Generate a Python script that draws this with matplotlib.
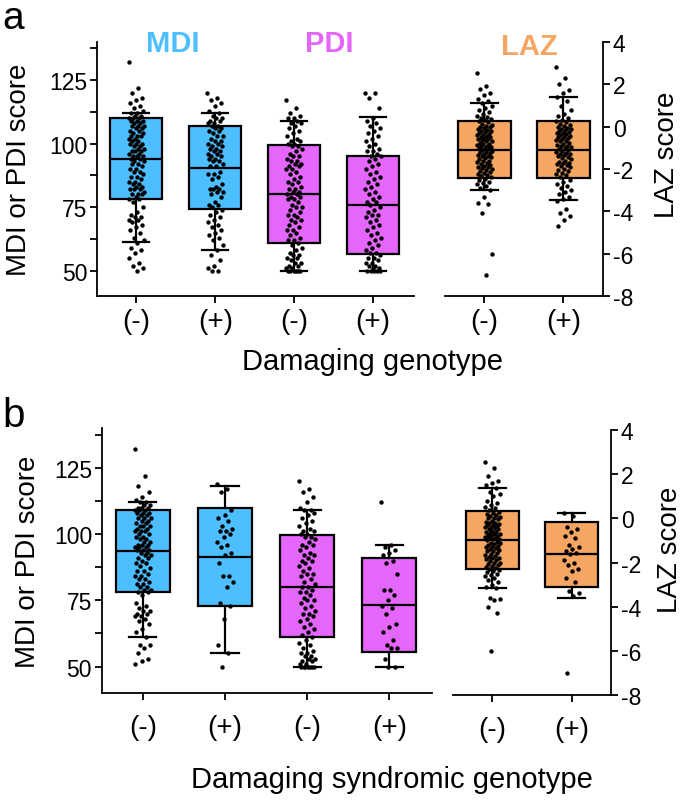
"""
    Box plots of developmental scores and LAZ by damaging genotype.
"""
import numpy as np
import matplotlib
matplotlib.use("Agg")
import matplotlib.pyplot as plt
from matplotlib.ticker import MultipleLocator

plt.rcParams["font.family"] = ["Liberation Sans", "DejaVu Sans"]
plt.rcParams["axes.unicode_minus"] = False

SCORE_LABELS = ["(-)", "(+)", "(-)", "(+)"]
LAZ_LABELS = ["(-)", "(+)"]
BLUE, PURPLE, ORANGE = "#4DBEFF", "#E466FB", "#F5A662"

# box stats as (whislo, q1, med, q3, whishi)
A_SCORE_BOX = [(61.2, 78.1, 94.1, 110.0, 112.2), (58.3, 74.1, 90.5, 107.0, 112.0),
               (50.0, 61.0, 80.1, 99.5, 108.8), (50.0, 56.6, 75.8, 95.1, 110.4)]
A_LAZ_BOX = [(-2.99, -2.42, -1.1, 0.27, 1.1), (-3.48, -2.42, -1.1, 0.27, 1.39)]
B_SCORE_BOX = [(61.1, 78.0, 93.6, 108.9, 112.1), (55.0, 72.8, 91.2, 109.9, 118.2),
               (50.0, 61.1, 79.9, 99.6, 109.0), (50.0, 55.5, 73.3, 91.0, 96.0)]
B_LAZ_BOX = [(-3.16, -2.31, -0.98, 0.35, 1.36), (-3.62, -3.1, -1.62, -0.18, 0.25)]

A_MDI_NEG = [132, 122, 120, 118, 117, 116, 115, 114, 113, 112, 112, 111, 111, 110, 110, 110,
             109, 109, 109, 108, 108, 107, 107, 107, 106, 106, 105, 105, 104, 104, 103, 103,
             103, 102, 102, 101, 101, 100, 100, 100, 99, 99, 98, 98, 97, 97, 97, 96, 96, 95,
             95, 95, 94, 94, 93, 93, 92, 92, 91, 90, 90, 89, 89, 88, 87, 87, 86, 85, 85, 84,
             84, 83, 83, 82, 82, 82, 81, 80, 80, 80, 79, 78, 78, 77, 75, 73, 72, 71, 71, 70,
             70, 69, 68, 67, 66, 65, 63, 62, 61, 59, 58, 57, 55, 53, 52, 51, 50]
A_MDI_POS = [120, 118, 117, 116, 115, 113, 112, 111, 110, 110, 109, 109, 108, 108, 107, 107,
             106, 106, 105, 105, 104, 103, 103, 102, 101, 101, 100, 100, 99, 99, 98, 98, 97,
             97, 96, 96, 95, 95, 94, 94, 93, 93, 92, 91, 91, 89, 88, 88, 87, 86, 84, 83, 82,
             82, 82, 81, 81, 80, 79, 77, 76, 76, 75, 74, 73, 72, 71, 70, 69, 68, 67, 66, 65,
             64, 63, 62, 60, 58, 56, 54, 52, 51, 50, 50]
A_PDI_NEG = [117, 114, 112, 111, 110, 110, 109, 108, 108, 107, 106, 105, 104, 103, 102, 101,
             101, 100, 100, 99, 99, 98, 97, 96, 95, 95, 94, 93, 93, 92, 92, 91, 91, 90, 90, 89,
             88, 87, 86, 85, 85, 84, 83, 82, 82, 81, 81, 80, 80, 79, 79, 78, 78, 77, 76, 75,
             75, 74, 73, 72, 72, 71, 70, 70, 69, 68, 67, 66, 66, 65, 64, 63, 62, 62, 61, 60,
             59, 58, 57, 56, 56, 55, 55, 54, 53, 53, 52, 52, 51, 51, 50, 50, 50, 50, 50, 50]
A_PDI_POS = [120, 120, 118, 114, 110, 109, 108, 107, 106, 105, 104, 103, 102, 101, 100, 99,
             98, 97, 97, 96, 95, 95, 94, 93, 92, 91, 90, 89, 88, 87, 86, 85, 84, 83, 82, 81,
             80, 79, 78, 77, 77, 76, 75, 74, 73, 72, 72, 71, 70, 69, 68, 67, 66, 65, 64, 63,
             62, 61, 60, 59, 58, 57, 57, 56, 55, 55, 54, 53, 53, 52, 52, 51, 51, 50, 50, 50,
             50, 50]
A_LAZ_NEG = [2.55, 1.9, 1.8, 1.6, 1.5, 1.3, 1.2, 1.1, 1.0, 0.9, 0.8, 0.7, 0.6, 0.5, 0.45,
             0.4, 0.35, 0.3, 0.25, 0.2, 0.15, 0.1, 0.05, 0.0, 0.0, -0.05, -0.1, -0.15, -0.2,
             -0.2, -0.25, -0.3, -0.35, -0.4, -0.4, -0.45, -0.5, -0.5, -0.55, -0.6, -0.6, -0.65,
             -0.7, -0.7, -0.75, -0.8, -0.8, -0.85, -0.9, -0.9, -0.95, -1.0, -1.0, -1.05, -1.1,
             -1.15, -1.2, -1.2, -1.25, -1.3, -1.35, -1.4, -1.4, -1.45, -1.5, -1.55, -1.6, -1.6,
             -1.65, -1.7, -1.75, -1.8, -1.85, -1.9, -1.9, -1.95, -2.0, -2.05, -2.1, -2.15, -2.2,
             -2.25, -2.3, -2.35, -2.4, -2.45, -2.5, -2.6, -2.65, -2.7, -2.8, -2.9, -3.0, -3.3,
             -3.6, -3.65, -4.1, -6.0, -7.0]
A_LAZ_POS = [2.8, 2.3, 2.0, 1.75, 1.6, 1.4, 1.2, 1.0, 0.8, 0.6, 0.5, 0.4, 0.3, 0.25, 0.2,
             0.15, 0.1, 0.05, 0.0, -0.05, -0.1, -0.1, -0.15, -0.2, -0.25, -0.3, -0.3, -0.35,
             -0.4, -0.45, -0.5, -0.5, -0.55, -0.6, -0.65, -0.7, -0.7, -0.75, -0.8, -0.85, -0.9,
             -0.9, -0.95, -1.0, -1.05, -1.1, -1.15, -1.2, -1.25, -1.3, -1.3, -1.35, -1.4, -1.45,
             -1.5, -1.55, -1.6, -1.65, -1.7, -1.7, -1.75, -1.8, -1.85, -1.9, -2.0, -2.05, -2.1,
             -2.2, -2.25, -2.3, -2.4, -2.5, -2.6, -2.7, -2.8, -2.9, -3.0, -3.1, -3.2, -3.3,
             -3.4, -3.5, -3.9, -4.1, -4.2, -4.4, -4.7]

B_MDI_NEG = [132, 122, 118, 116, 114, 113, 112, 112, 111, 111, 110, 110, 110, 109, 109, 109,
             108, 108, 108, 107, 107, 106, 106, 106, 105, 105, 104, 104, 103, 103, 103, 102,
             102, 101, 101, 101, 100, 100, 99, 99, 98, 98, 97, 97, 96, 96, 96, 95, 95, 95, 94,
             94, 94, 93, 93, 92, 92, 91, 91, 90, 89, 89, 88, 87, 86, 86, 85, 84, 84, 83, 83,
             82, 81, 81, 80, 80, 79, 79, 78, 78, 77, 74, 73, 72, 71, 71, 70, 70, 69, 69, 68,
             67, 66, 64, 63, 61, 58, 58, 57, 55, 53, 52, 51]
B_MDI_POS = [119, 117, 116, 109, 107, 106, 105, 103, 102, 101, 101, 100, 99, 97, 96, 95, 93,
             92, 89, 84, 84, 82, 80, 74, 73, 68, 58, 55, 50]
B_PDI_NEG = [120, 117, 116, 114, 112, 110, 109, 109, 108, 107, 106, 105, 104, 103, 102, 101,
             101, 100, 100, 99, 99, 98, 97, 96, 96, 95, 94, 93, 92, 92, 91, 90, 90, 89, 88, 87,
             86, 85, 85, 84, 83, 82, 81, 80, 80, 79, 78, 78, 77, 76, 75, 75, 74, 73, 72, 71,
             70, 70, 69, 68, 67, 66, 65, 64, 63, 62, 61, 60, 59, 58, 57, 56, 55, 55, 54, 54,
             53, 53, 52, 52, 51, 51, 50, 50, 50, 50, 50, 50, 50]
B_PDI_POS = [112, 96, 95, 94, 93, 92, 90, 89, 85, 79, 79, 77, 75, 73, 72, 70, 66, 65, 63, 60,
             58, 57, 57, 53, 50, 50]
B_LAZ_NEG = [2.56, 2.3, 1.9, 1.7, 1.6, 1.5, 1.36, 1.2, 1.1, 1.0, 0.8, 0.7, 0.6, 0.5, 0.45,
             0.4, 0.3, 0.25, 0.2, 0.15, 0.1, 0.05, 0.0, 0.0, -0.05, -0.1, -0.15, -0.2, -0.2,
             -0.25, -0.3, -0.3, -0.35, -0.4, -0.4, -0.45, -0.5, -0.5, -0.55, -0.6, -0.6, -0.65,
             -0.7, -0.7, -0.75, -0.8, -0.8, -0.85, -0.9, -0.9, -0.95, -0.95, -1.0, -1.05, -1.1,
             -1.1, -1.15, -1.2, -1.25, -1.3, -1.3, -1.35, -1.4, -1.45, -1.5, -1.5, -1.55, -1.6,
             -1.65, -1.7, -1.75, -1.8, -1.8, -1.85, -1.9, -1.95, -2.0, -2.0, -2.05, -2.1, -2.15,
             -2.2, -2.25, -2.3, -2.35, -2.4, -2.45, -2.5, -2.55, -2.6, -2.7, -2.8, -2.9, -3.0,
             -3.1, -3.16, -3.6, -3.65, -3.7, -4.0, -4.3, -6.0]
B_LAZ_POS = [0.25, 0.1, -0.4, -0.5, -0.6, -0.8, -0.9, -1.2, -1.3, -1.4, -1.5, -1.55, -1.6,
             -1.9, -2.0, -2.1, -2.3, -2.4, -2.7, -2.9, -3.3, -3.4, -3.5, -7.0]


def jitter(count, half_width=0.1):
    """
        Spread points sideways with a fixed low-discrepancy sequence.
    """
    return ((np.arange(count) * 0.6180339887) % 1.0 - 0.5) * 2 * half_width


def draw_boxes(axes, box_stats, groups, colors):
    """
        Draw the boxes and the dots of each group.
    """
    stats = [{"whislo": s[0], "q1": s[1], "med": s[2], "q3": s[3], "whishi": s[4]}
             for s in box_stats]
    positions = np.arange(1, len(stats) + 1)
    parts = axes.bxp(stats, positions=positions, widths=0.66, capwidths=0.33,
                     patch_artist=True, showfliers=False, manage_ticks=False,
                     boxprops={"linewidth": 1.6, "edgecolor": "black"},
                     whiskerprops={"linewidth": 1.6}, capprops={"linewidth": 1.6},
                     medianprops={"linewidth": 1.6, "color": "black"})
    for patch, color in zip(parts["boxes"], colors):
        patch.set_facecolor(color)
    for pos, values in zip(positions, groups):
        axes.scatter(pos + jitter(len(values)), values, s=10, color="black",
                     zorder=5, linewidths=0)


def style_axes(score_ax, laz_ax, xlabel):
    """
        Set spines, ticks and labels of one panel.
    """
    score_ax.set_xlim(0.5, 4.52)
    score_ax.set_ylim(40, 140)
    score_ax.set_yticks([50, 75, 100, 125])
    score_ax.yaxis.set_minor_locator(MultipleLocator(12.5))
    score_ax.set_xticks([1, 2, 3, 4])
    score_ax.set_xticklabels(SCORE_LABELS)
    score_ax.spines[["top", "right"]].set_visible(False)
    score_ax.set_ylabel("MDI or PDI score", fontsize=20)
    score_ax.set_xlabel(xlabel, fontsize=21)

    laz_ax.set_xlim(0.5, 2.5)
    laz_ax.set_ylim(-8, 4)
    laz_ax.set_yticks(range(-8, 5, 2))
    laz_ax.set_xticks([1, 2])
    laz_ax.set_xticklabels(LAZ_LABELS)
    laz_ax.spines[["top", "left"]].set_visible(False)
    laz_ax.yaxis.tick_right()
    laz_ax.yaxis.set_label_position("right")
    laz_ax.set_ylabel("LAZ score", fontsize=20)

    for axes in (score_ax, laz_ax):
        for spine in axes.spines.values():
            spine.set_linewidth(1.3)
        axes.tick_params(axis="both", which="both", direction="out", width=1.3, length=5)
        axes.tick_params(axis="y", labelsize=16.5, pad=2)
        axes.tick_params(axis="x", labelsize=20, pad=4)


fig = plt.figure(figsize=(6.85, 8.04), dpi=100)

ax_a = fig.add_axes([0.1416, 0.6306, 0.4628, 0.3159])
ax_a2 = fig.add_axes([0.6496, 0.6306, 0.2307, 0.3159])
draw_boxes(ax_a, A_SCORE_BOX, [A_MDI_NEG, A_MDI_POS, A_PDI_NEG, A_PDI_POS],
           [BLUE, BLUE, PURPLE, PURPLE])
draw_boxes(ax_a2, A_LAZ_BOX, [A_LAZ_NEG, A_LAZ_POS], [ORANGE, ORANGE])
style_axes(ax_a, ax_a2, "Damaging genotype")
ax_a.yaxis.set_label_coords(-0.205, 0.5)
ax_a2.yaxis.set_label_coords(1.32, 0.56)
ax_a.xaxis.set_label_coords(0.87, -0.2)
ax_a.text(1.46, 139.5, "MDI", color=BLUE, fontsize=21, fontweight="bold",
          ha="center", va="center")
ax_a.text(3.45, 139.5, "PDI", color=PURPLE, fontsize=21, fontweight="bold",
          ha="center", va="center")
ax_a2.text(1.57, 3.8, "LAZ", color=ORANGE, fontsize=21, fontweight="bold",
           ha="center", va="center")

ax_b = fig.add_axes([0.1485, 0.1368, 0.4822, 0.3296])
ax_b2 = fig.add_axes([0.6613, 0.1343, 0.2307, 0.3296])
draw_boxes(ax_b, B_SCORE_BOX, [B_MDI_NEG, B_MDI_POS, B_PDI_NEG, B_PDI_POS],
           [BLUE, BLUE, PURPLE, PURPLE])
draw_boxes(ax_b2, B_LAZ_BOX, [B_LAZ_NEG, B_LAZ_POS], [ORANGE, ORANGE])
style_axes(ax_b, ax_b2, "Damaging syndromic genotype")
ax_b.yaxis.set_label_coords(-0.185, 0.5)
ax_b2.yaxis.set_label_coords(1.29, 0.55)
ax_b.xaxis.set_label_coords(0.88, -0.27)
ax_b.tick_params(axis="x", pad=10)
ax_b2.tick_params(axis="x", pad=10)

fig.text(0.003, 0.999, "a", fontsize=28, va="top")
fig.text(0.003, 1 - 427 / 804, "b", fontsize=29, va="baseline")

fig.savefig("out.png", dpi=100)
